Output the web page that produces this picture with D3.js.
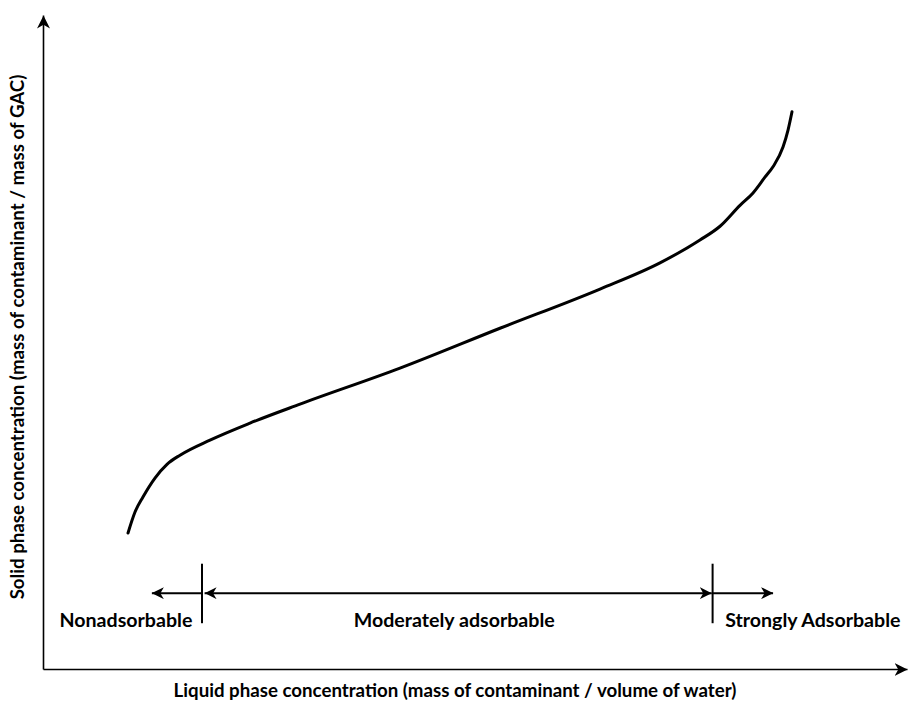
<!DOCTYPE html>
<html lang="en">
<head>
<meta charset="utf-8">
<title>Adsorption isotherm</title>
<script src="https://cdn.jsdelivr.net/npm/d3@7"></script>
<style>
  body { margin: 0; background: #fff; }
  text { font-family: Lato, "Open Sans", sans-serif; font-weight: bold; fill: #000; }
</style>
</head>
<body>
<div id="chart"></div>
<script>
// isotherm curve (axis units 0..100)
var curveX = [9.84, 10.65, 11.57, 12.96, 14.35, 15.86, 19.33, 23.96, 29.75, 41.32, 52.89, 64.47, 71.41, 76.04, 78.36, 80.67, 82.18, 83.56, 84.49, 85.65, 86.23, 86.69];
var curveY = [20.8, 24.0, 26.3, 29.2, 31.3, 32.7, 35.0, 37.6, 40.5, 46.0, 52.1, 58.1, 62.1, 65.6, 67.7, 70.9, 72.8, 75.2, 76.8, 79.8, 82.4, 85.2];

// region boundaries and arrow extents along the x axis
var bounds = [18.4, 77.5];
var arrowEnds = [12.6, 84.5];
var regionNames = ["Nonadsorbable", "Moderately adsorbable", "Strongly Adsorbable"];
var regionCenters = [9.6, 47.6, 89.1];

var xTitle = "Liquid phase concentration (mass of contaminant / volume of water)";
var yTitle = "Solid phase concentration (mass of contaminant / mass of GAC)";

var w = 909, h = 704;

var x = d3.scaleLinear().domain([0, 100]).range([43, 907]);
var y = d3.scaleLinear().domain([0, 100]).range([669, 15]);

var svg = d3.select("#chart").append("svg")
    .attr("width", w)
    .attr("height", h);

// arrowhead markers
var defs = svg.append("defs");
function addMarker(id, size) {
  defs.append("marker")
      .attr("id", id)
      .attr("viewBox", "0 0 12 12")
      .attr("refX", 12)
      .attr("refY", 6)
      .attr("markerUnits", "userSpaceOnUse")
      .attr("markerWidth", size)
      .attr("markerHeight", size)
      .attr("orient", "auto-start-reverse")
    .append("path")
      .attr("d", "M0,0 L12,6 L0,12 L3.5,6 Z")
      .attr("fill", "#000");
}
addMarker("axisHead", 13);
addMarker("head", 12);

// axes: just the domain lines with an arrow on the end
var xAxis = svg.append("g")
    .attr("transform", "translate(0," + y(0) + ")")
    .call(d3.axisBottom(x).tickValues([]).tickSizeOuter(0));
xAxis.select(".domain")
    .attr("stroke-width", 1.6)
    .attr("marker-end", "url(#axisHead)");

var yAxis = svg.append("g")
    .attr("transform", "translate(" + x(0) + ",0)")
    .call(d3.axisLeft(y).tickValues([]).tickSizeOuter(0));
yAxis.select(".domain")
    .attr("stroke-width", 1.6)
    .attr("marker-end", "url(#axisHead)");

// the isotherm
var pts = curveX.map(function(d, i) { return [d, curveY[i]]; });
var line = d3.line()
    .x(function(d) { return x(d[0]); })
    .y(function(d) { return y(d[1]); })
    .curve(d3.curveMonotoneX);

svg.append("path")
    .datum(pts)
    .attr("d", line)
    .attr("fill", "none")
    .attr("stroke", "#000")
    .attr("stroke-width", 3)
    .attr("stroke-linecap", "round");

// region dividers
var arrowY = 11.6;
svg.selectAll(".divider")
    .data(bounds)
    .enter().append("line")
    .attr("class", "divider")
    .attr("x1", function(d) { return x(d); })
    .attr("x2", function(d) { return x(d); })
    .attr("y1", y(16.1))
    .attr("y2", y(7.0))
    .attr("stroke", "#000")
    .attr("stroke-width", 2);

// range arrows
var arrows = [
  { from: bounds[0], to: arrowEnds[0], both: false },
  { from: bounds[0] + 0.3, to: bounds[1] - 0.1, both: true },
  { from: bounds[1], to: arrowEnds[1], both: false }
];
svg.selectAll(".range")
    .data(arrows)
    .enter().append("line")
    .attr("class", "range")
    .attr("x1", function(d) { return x(d.from); })
    .attr("x2", function(d) { return x(d.to); })
    .attr("y1", y(arrowY))
    .attr("y2", y(arrowY))
    .attr("stroke", "#000")
    .attr("stroke-width", 2)
    .attr("marker-end", "url(#head)")
    .attr("marker-start", function(d) { return d.both ? "url(#head)" : null; });

// region labels
svg.selectAll(".region")
    .data(regionNames)
    .enter().append("text")
    .attr("class", "region")
    .attr("x", function(d, i) { return x(regionCenters[i]); })
    .attr("y", y(6.4))
    .attr("text-anchor", "middle")
    .attr("font-size", 19.6)
    .text(function(d) { return d; });

// axis titles
svg.append("text")
    .attr("x", 455)
    .attr("y", 697)
    .attr("text-anchor", "middle")
    .attr("font-size", 18.7)
    .text(xTitle);

svg.append("text")
    .attr("transform", "translate(24,337) rotate(-90)")
    .attr("text-anchor", "middle")
    .attr("font-size", 18.7)
    .text(yTitle);
</script>
</body>
</html>
